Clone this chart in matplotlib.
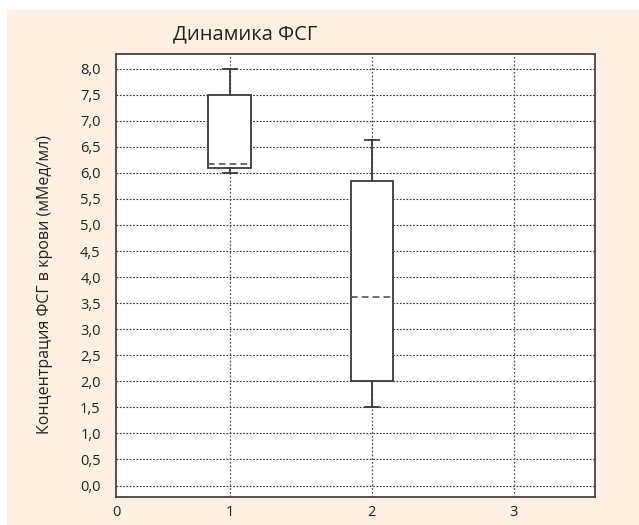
import matplotlib
matplotlib.use("Agg")
import matplotlib.pyplot as plt
from matplotlib.patches import Rectangle

plt.rcParams['font.family'] = ['Open Sans', 'DejaVu Sans']

# summary statistics
groups = [1, 2]
whislo = [6.0, 1.5]
q1 = [6.1, 2.0]
med = [6.17, 3.62]
q3 = [7.5, 5.85]
whishi = [8.0, 6.63]

y_ticks = [i * 0.5 for i in range(17)]
y_labels = [f"{v:.1f}".replace(".", ",") for v in y_ticks]
x_ticks = [0.2, 1, 2, 3]
x_labels = ["0", "1", "2", "3"]

fig = plt.figure(figsize=(6.39, 5.25), dpi=100)
fig.patch.set_facecolor("white")
# peach page background
fig.patches.append(Rectangle((7 / 639, 0), 1, 1 - 10 / 525, transform=fig.transFigure,
                             facecolor="#fef0e3", edgecolor="none", zorder=-10))

ax = fig.add_axes([116 / 639, 28 / 525, 479 / 639, 443 / 525])
ax.set_facecolor("white")

stats = []
for i in range(len(groups)):
    stats.append(dict(whislo=whislo[i], q1=q1[i], med=med[i], q3=q3[i], whishi=whishi[i], fliers=[]))

ax.bxp(stats, positions=groups, widths=0.30, showfliers=False, patch_artist=True,
       boxprops=dict(facecolor="white", edgecolor="#3a3a3a", linewidth=1.3),
       whiskerprops=dict(color="#3a3a3a", linewidth=1.3),
       capprops=dict(color="#3a3a3a", linewidth=1.3),
       medianprops=dict(color="#555555", linewidth=1.2, linestyle=(0, (4, 2.5))),
       capwidths=0.1, zorder=3)

ax.set_xlim(0.2, 3.57)
ax.set_ylim(-0.22, 8.28)
ax.set_xticks(x_ticks)
ax.set_xticklabels(x_labels)
ax.set_yticks(y_ticks)
ax.set_yticklabels(y_labels)
ax.tick_params(axis="both", length=0, labelsize=10.5, colors="#222222")
ax.tick_params(axis="y", pad=11)
ax.tick_params(axis="x", pad=6)

ax.grid(True, axis="y", color="#333333", linestyle=(0, (1.5, 1.5)), linewidth=0.8, zorder=1)
for x in x_ticks[1:]:
    ax.axvline(x, color="#555555", linestyle=(0, (1.5, 1.5)), linewidth=0.9, zorder=1)
ax.set_axisbelow(True)

for s in ax.spines.values():
    s.set_color("#444444")
    s.set_linewidth(1.3)

fig.text(245 / 639, 1 - 34 / 525, "Динамика ФСГ", ha="center", va="center", fontsize=14.5, color="#222222")
fig.text(45 / 639, 1 - 285 / 525, "Концентрация ФСГ в крови (мМед/мл)", rotation=90,
         ha="center", va="center", fontsize=11.5, color="#222222")

fig.savefig("out.png", dpi=100)
